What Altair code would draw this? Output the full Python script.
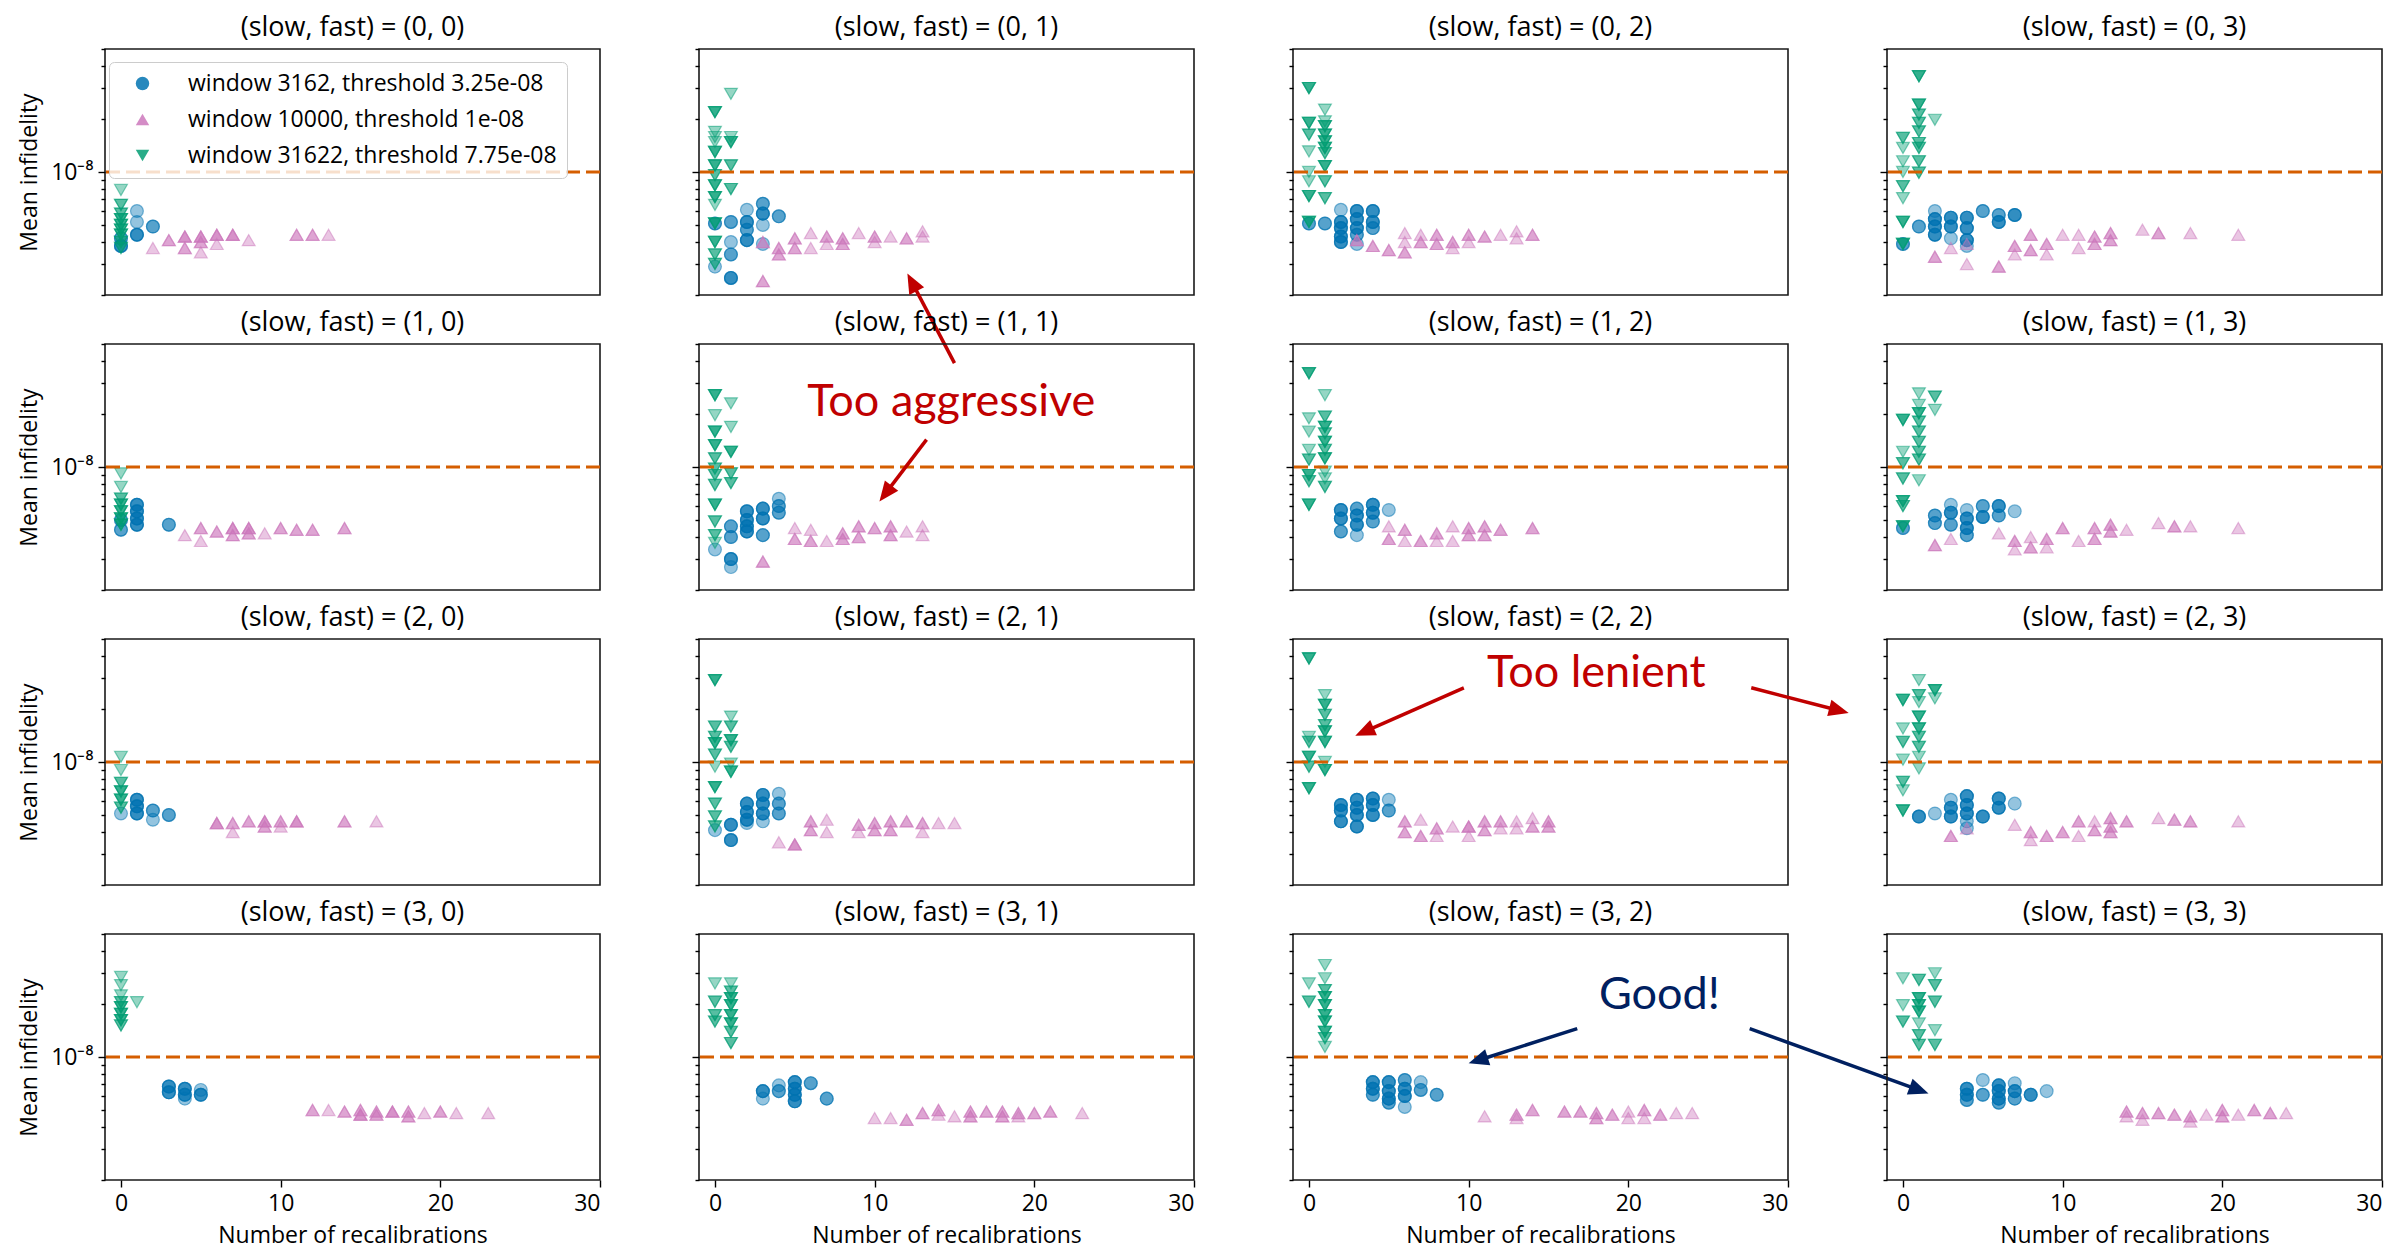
import math
import altair as alt
import pandas as pd

# ---------------- data ----------------
SERIES = ["window 3162, threshold 3.25e-08",
          "window 10000, threshold 1e-08",
          "window 31622, threshold 7.75e-08"]
COLORS = ["#0173b2", "#cc78bc", "#029e73"]
SHAPES = ["circle", "triangle-up", "triangle-down"]
THRESHOLD = [1e-8]
UNIT = 1e-8          # y values below are in units of 1e-8
X_TICKS = [0, 10, 20, 30]
Y_TICKS = [2e-9, 3e-9, 4e-9, 5e-9, 6e-9, 7e-9, 8e-9, 9e-9, 1e-8, 2e-8, 3e-8, 4e-8, 5e-8]
X_DOMAIN = [-1, 30]
Y_DOMAIN = [2e-9, 5e-8]

# (recalibrations, mean infidelity / 1e-8, number of overlapping runs)
W3162 = {
    (0, 0): [(0, .38, 3), (0, .42, 2), (1, .60, 1), (1, .52, 1), (1, .44, 3), (2, .49, 2)],
    (0, 1): [(0, .51, 2), (0, .29, 1), (1, .52, 2), (1, .40, 1), (1, .34, 2), (1, .25, 3), (2, .61, 1), (2, .52, 3),
             (2, .47, 2), (2, .41, 3), (3, .66, 2), (3, .58, 3), (3, .50, 1), (3, .39, 1), (4, .56, 2)],
    (0, 2): [(0, .51, 2), (1, .51, 2), (2, .61, 1), (2, .52, 3), (2, .48, 3), (2, .43, 3), (2, .40, 3), (3, .60, 3),
             (3, .54, 3), (3, .48, 3), (3, .44, 2), (3, .39, 1), (4, .60, 3), (4, .52, 3), (4, .48, 2)],
    (0, 3): [(0, .39, 2), (1, .49, 2), (2, .60, 1), (2, .54, 3), (2, .49, 3), (2, .44, 3), (3, .55, 3), (3, .49, 3),
             (3, .42, 1), (4, .55, 3), (4, .48, 3), (4, .41, 3), (4, .38, 1), (5, .60, 2), (6, .57, 2), (6, .52, 3),
             (7, .57, 3)],
    (1, 0): [(0, .50, 2), (0, .44, 2), (1, .61, 3), (1, .56, 3), (1, .51, 3), (1, .47, 3), (3, .47, 2)],
    (1, 1): [(0, .34, 1), (1, .46, 2), (1, .40, 2), (1, .30, 3), (1, .27, 1), (2, .56, 3), (2, .50, 3), (2, .46, 3),
             (2, .43, 3), (3, .58, 3), (3, .51, 3), (3, .41, 2), (4, .66, 1), (4, .60, 2), (4, .55, 2)],
    (1, 2): [(2, .57, 3), (2, .51, 3), (2, .43, 2), (3, .58, 2), (3, .53, 3), (3, .47, 3), (3, .41, 1), (4, .61, 3),
             (4, .55, 3), (4, .49, 2), (5, .57, 1)],
    (1, 3): [(0, .45, 2), (2, .53, 2), (2, .48, 2), (3, .61, 1), (3, .55, 3), (3, .47, 2), (4, .57, 1), (4, .51, 3),
             (4, .45, 3), (4, .41, 2), (5, .60, 2), (5, .52, 3), (6, .60, 3), (6, .53, 2), (7, .56, 1)],
    (2, 0): [(0, .51, 1), (1, .61, 3), (1, .56, 3), (1, .51, 3), (2, .53, 2), (2, .47, 1), (3, .50, 2)],
    (2, 1): [(0, .41, 1), (1, .44, 3), (1, .36, 3), (2, .58, 3), (2, .52, 3), (2, .47, 3), (2, .45, 1), (3, .65, 3),
             (3, .58, 3), (3, .51, 3), (3, .46, 1), (4, .66, 1), (4, .58, 2), (4, .51, 2)],
    (2, 2): [(2, .57, 3), (2, .53, 3), (2, .46, 3), (3, .61, 3), (3, .55, 3), (3, .50, 3), (3, .43, 3), (4, .62, 3),
             (4, .57, 3), (4, .50, 3), (5, .61, 1), (5, .53, 2)],
    (2, 3): [(1, .49, 3), (2, .51, 1), (3, .61, 1), (3, .55, 3), (3, .49, 3), (4, .64, 3), (4, .57, 3), (4, .51, 3),
             (4, .46, 1), (4, .42, 1), (5, .49, 3), (6, .62, 3), (6, .55, 3), (7, .58, 1)],
    (3, 0): [(3, .68, 3), (3, .63, 3), (4, .66, 3), (4, .61, 3), (4, .58, 1), (5, .65, 1), (5, .61, 3)],
    (3, 1): [(3, .64, 3), (3, .58, 1), (4, .69, 1), (4, .64, 2), (5, .72, 3), (5, .66, 3), (5, .61, 3), (5, .56, 3),
             (6, .71, 2), (7, .58, 2)],
    (3, 2): [(4, .72, 3), (4, .66, 3), (4, .61, 2), (5, .72, 3), (5, .64, 3), (5, .58, 3), (5, .55, 2), (6, .74, 2),
             (6, .66, 3), (6, .60, 3), (6, .52, 1), (7, .72, 1), (7, .65, 2), (8, .61, 2)],
    (3, 3): [(4, .66, 3), (4, .61, 3), (4, .57, 2), (5, .74, 1), (5, .61, 2), (6, .69, 3), (6, .64, 3), (6, .58, 3),
             (6, .55, 2), (7, .71, 1), (7, .64, 3), (7, .58, 2), (8, .61, 3), (9, .64, 1)],
}

W10000 = {
    (0, 0): [(2, .37, 1), (3, .41, 2), (4, .43, 3), (4, .37, 2), (5, .43, 3), (5, .40, 2), (5, .35, 1), (6, .44, 3),
             (6, .39, 1), (7, .44, 3), (8, .41, 1), (11, .44, 2), (12, .44, 2), (13, .44, 1)],
    (0, 1): [(3, .40, 2), (3, .24, 2), (4, .37, 2), (4, .34, 2), (5, .42, 2), (5, .37, 2), (6, .45, 1), (6, .37, 1),
             (7, .43, 2), (7, .39, 1), (8, .42, 2), (8, .39, 2), (9, .45, 1), (10, .43, 2), (10, .40, 1),
             (11, .43, 1), (12, .42, 2), (13, .46, 1), (13, .43, 1)],
    (0, 2): [(3, .41, 2), (4, .38, 2), (5, .36, 2), (6, .45, 1), (6, .40, 1), (6, .35, 2), (7, .44, 1), (7, .40, 2),
             (8, .44, 2), (8, .39, 2), (9, .40, 2), (9, .37, 1), (10, .44, 2), (10, .40, 1), (11, .43, 2),
             (12, .44, 1), (13, .46, 1), (13, .42, 1), (14, .44, 2)],
    (0, 3): [(2, .33, 2), (3, .37, 1), (4, .39, 1), (4, .30, 1), (6, .29, 2), (7, .38, 2), (7, .34, 1), (8, .44, 2),
             (8, .36, 2), (9, .39, 2), (9, .34, 1), (10, .44, 1), (11, .44, 1), (11, .37, 1), (12, .43, 2),
             (12, .39, 2), (13, .45, 2), (13, .41, 2), (15, .47, 1), (16, .45, 2), (18, .45, 1), (21, .44, 1)],
    (1, 0): [(4, .41, 1), (5, .45, 2), (5, .38, 1), (6, .43, 2), (7, .45, 3), (7, .41, 2), (8, .45, 3), (8, .42, 2),
             (9, .42, 1), (10, .45, 2), (11, .44, 2), (12, .44, 2), (14, .45, 2)],
    (1, 1): [(3, .29, 2), (5, .45, 1), (5, .39, 2), (6, .44, 1), (6, .38, 2), (7, .38, 1), (8, .42, 2), (8, .39, 2),
             (9, .46, 2), (9, .40, 2), (10, .45, 2), (11, .46, 2), (11, .41, 2), (12, .43, 1), (13, .46, 1),
             (13, .41, 1)],
    (1, 2): [(5, .46, 1), (5, .39, 2), (6, .44, 2), (6, .38, 1), (7, .38, 2), (8, .42, 2), (8, .38, 1), (9, .46, 1),
             (9, .38, 1), (10, .45, 2), (10, .41, 2), (11, .46, 2), (11, .41, 2), (12, .44, 2), (14, .45, 2)],
    (1, 3): [(2, .36, 2), (3, .39, 1), (6, .42, 1), (7, .38, 2), (7, .34, 1), (8, .40, 1), (8, .35, 2), (9, .39, 2),
             (9, .35, 1), (10, .45, 2), (11, .38, 1), (12, .45, 2), (12, .39, 2), (13, .47, 2), (13, .43, 2),
             (14, .44, 1), (16, .48, 1), (17, .46, 2), (18, .46, 1), (21, .45, 1)],
    (2, 0): [(6, .45, 3), (7, .45, 2), (7, .40, 1), (8, .46, 2), (9, .46, 3), (9, .43, 2), (10, .46, 2), (10, .43, 1),
             (11, .46, 3), (14, .46, 2), (16, .46, 1)],
    (2, 1): [(4, .35, 1), (5, .34, 3), (6, .46, 2), (6, .41, 2), (7, .47, 1), (7, .40, 1), (9, .44, 2), (9, .40, 1),
             (10, .45, 2), (10, .41, 2), (11, .46, 2), (11, .41, 2), (12, .46, 2), (13, .45, 2), (13, .40, 1),
             (14, .45, 1), (15, .45, 1)],
    (2, 2): [(6, .46, 2), (6, .40, 2), (7, .47, 1), (7, .38, 2), (8, .42, 2), (8, .38, 1), (9, .43, 1), (10, .43, 3),
             (10, .38, 1), (11, .46, 2), (11, .41, 2), (12, .46, 2), (12, .42, 1), (13, .46, 1), (13, .42, 1),
             (14, .48, 1), (14, .43, 2), (15, .46, 2), (15, .43, 2)],
    (2, 3): [(3, .38, 2), (4, .42, 1), (7, .44, 1), (8, .40, 2), (8, .36, 1), (9, .38, 2), (10, .40, 2), (11, .46, 2),
             (11, .38, 1), (12, .46, 1), (12, .41, 2), (13, .48, 2), (13, .43, 2), (13, .40, 2), (14, .46, 2),
             (16, .48, 1), (17, .47, 2), (18, .46, 2), (21, .46, 1)],
    (3, 0): [(12, .50, 2), (13, .50, 1), (14, .49, 2), (15, .50, 2), (15, .47, 3), (16, .49, 2), (16, .47, 2),
             (17, .49, 3), (18, .49, 2), (18, .46, 2), (19, .48, 1), (20, .49, 2), (21, .48, 1), (23, .48, 1)],
    (3, 1): [(10, .45, 1), (11, .45, 1), (12, .44, 2), (13, .48, 2), (14, .50, 2), (14, .47, 1), (15, .46, 1),
             (16, .49, 2), (16, .46, 2), (17, .49, 2), (18, .49, 2), (18, .46, 2), (19, .48, 2), (19, .46, 1),
             (20, .48, 2), (21, .49, 2), (23, .48, 1)],
    (3, 2): [(11, .46, 1), (13, .47, 2), (13, .45, 1), (14, .50, 2), (16, .49, 2), (17, .49, 2), (18, .48, 2),
             (18, .45, 2), (19, .47, 2), (20, .49, 1), (20, .45, 1), (21, .50, 2), (21, .45, 1), (22, .47, 2),
             (23, .48, 1), (24, .48, 1)],
    (3, 3): [(14, .49, 2), (14, .46, 1), (15, .48, 2), (15, .44, 1), (16, .48, 2), (17, .47, 2), (18, .46, 2),
             (18, .43, 1), (19, .47, 1), (20, .50, 2), (20, .46, 2), (21, .47, 1), (22, .50, 2), (23, .48, 2),
             (24, .48, 1)],
}

W31622 = {
    (0, 0): [(0, .79, 1), (0, .65, 2), (0, .58, 2), (0, .54, 3), (0, .50, 3), (0, .47, 3), (0, .44, 3), (0, .40, 2),
             (0, .37, 2)],
    (0, 1): [(0, 2.19, 3), (0, 1.69, 1), (0, 1.58, 1), (0, 1.48, 1), (0, 1.30, 3), (0, 1.09, 3), (0, .96, 2),
             (0, .84, 3), (0, .72, 3), (0, .65, 1), (0, .51, 3), (0, .40, 3), (0, .34, 2), (0, .30, 2),
             (1, 2.78, 1), (1, 1.58, 1), (1, 1.48, 3), (1, 1.09, 2), (1, .80, 2)],
    (0, 2): [(0, 3.0, 3), (0, 1.90, 3), (0, 1.63, 2), (0, 1.31, 1), (0, 1.0, 1), (0, .885, 1), (0, .73, 3),
             (0, .52, 3), (1, 2.26, 1), (1, 1.94, 1), (1, 1.82, 3), (1, 1.63, 3), (1, 1.49, 3), (1, 1.37, 3),
             (1, 1.28, 2), (1, 1.08, 3), (1, .885, 2), (1, .71, 2)],
    (0, 3): [(0, 1.56, 2), (0, 1.37, 1), (0, 1.15, 1), (0, 1.0, 1), (0, .83, 2), (0, .71, 1), (0, .52, 3),
             (0, .39, 3), (1, 3.5, 3), (1, 2.41, 3), (1, 2.12, 2), (1, 1.90, 2), (1, 1.70, 2), (1, 1.46, 2),
             (1, 1.37, 2), (1, 1.15, 2), (1, .99, 2), (2, 1.98, 1)],
    (1, 0): [(0, .92, 1), (0, .77, 1), (0, .66, 2), (0, .61, 3), (0, .56, 3), (0, .51, 3), (0, .47, 3)],
    (1, 1): [(0, 2.56, 3), (0, 1.97, 1), (0, 1.59, 3), (0, 1.33, 3), (0, 1.12, 2), (0, .98, 2), (0, .90, 2),
             (0, .79, 2), (0, .61, 3), (0, .49, 2), (0, .41, 2), (0, .37, 1), (1, 2.30, 1), (1, 1.69, 1),
             (1, 1.22, 3), (1, .92, 2), (1, .81, 2)],
    (1, 2): [(0, 3.41, 3), (0, 1.89, 1), (0, 1.59, 1), (0, 1.25, 1), (0, 1.10, 2), (0, .90, 3), (0, .83, 2),
             (0, .61, 3), (1, 2.56, 1), (1, 1.93, 2), (1, 1.69, 3), (1, 1.55, 2), (1, 1.39, 3), (1, 1.25, 2),
             (1, 1.12, 3), (1, .94, 1), (1, .86, 1), (1, .77, 2)],
    (1, 3): [(0, 1.85, 3), (0, 1.22, 1), (0, 1.05, 2), (0, .86, 2), (0, .64, 3), (0, .60, 2), (0, .46, 3),
             (1, 2.62, 1), (1, 2.25, 1), (1, 2.02, 3), (1, 1.81, 2), (1, 1.59, 2), (1, 1.39, 2), (1, 1.22, 2),
             (1, 1.10, 2), (1, .84, 1), (2, 2.51, 2), (2, 2.11, 1)],
    (2, 0): [(0, 1.07, 1), (0, .90, 1), (0, .76, 2), (0, .68, 3), (0, .61, 3), (0, .55, 2)],
    (2, 1): [(0, 2.92, 3), (0, 1.59, 2), (0, 1.39, 2), (0, 1.28, 3), (0, 1.10, 2), (0, .94, 1), (0, .72, 3),
             (0, .58, 2), (0, .49, 2), (0, .43, 2), (1, 1.81, 1), (1, 1.59, 2), (1, 1.33, 3), (1, 1.22, 2),
             (1, .98, 1), (1, .88, 3)],
    (2, 2): [(0, 3.88, 3), (0, 1.39, 1), (0, 1.30, 2), (0, 1.07, 3), (0, .94, 2), (0, .71, 3), (1, 2.40, 1),
             (1, 2.11, 3), (1, 1.85, 2), (1, 1.62, 2), (1, 1.49, 3), (1, 1.30, 3), (1, 1.0, 1), (1, .90, 3)],
    (2, 3): [(0, 2.25, 3), (0, 1.55, 1), (0, 1.30, 2), (0, 1.03, 1), (0, .77, 2), (0, .69, 1), (0, .53, 3),
             (1, 2.92, 1), (1, 2.40, 2), (1, 2.19, 1), (1, 1.81, 3), (1, 1.55, 3), (1, 1.39, 2), (1, 1.22, 2),
             (1, 1.07, 1), (1, .92, 1), (2, 2.56, 3), (2, 2.30, 1)],
    (3, 0): [(0, 2.85, 1), (0, 2.56, 1), (0, 2.24, 1), (0, 2.05, 2), (0, 1.92, 3), (0, 1.76, 3), (0, 1.62, 3),
             (0, 1.51, 2), (1, 2.05, 1)],
    (3, 1): [(0, 2.62, 1), (0, 2.06, 2), (0, 1.73, 2), (0, 1.59, 2), (1, 2.62, 1), (1, 2.35, 2), (1, 2.16, 3),
             (1, 1.97, 3), (1, 1.73, 3), (1, 1.55, 3), (1, 1.39, 2), (1, 1.20, 2)],
    (3, 2): [(0, 2.62, 1), (0, 2.06, 2), (1, 3.33, 1), (1, 2.80, 1), (1, 2.40, 2), (1, 2.19, 3), (1, 1.97, 3),
             (1, 1.73, 3), (1, 1.59, 3), (1, 1.39, 3), (1, 1.28, 2), (1, 1.14, 1)],
    (3, 3): [(0, 2.80, 1), (0, 1.97, 1), (0, 1.59, 2), (1, 2.74, 2), (1, 2.16, 3), (1, 1.97, 3), (1, 1.81, 3),
             (1, 1.55, 1), (1, 1.33, 2), (1, 1.17, 2), (2, 2.99, 1), (2, 2.56, 2), (2, 2.06, 2), (2, 1.42, 1),
             (2, 1.17, 2)],
}

# annotations (in the host panel's data coordinates)
RED, NAVY = "#c00000", "#002060"
NOTE_PANEL = [(1, 1), (2, 2), (3, 2)]
NOTE_TEXT = ["Too aggressive", "Too lenient", "Good!"]
NOTE_X = [14.8, 18.0, 21.95]
NOTE_Y = [1.94e-8, 2.67e-8, 1.88e-8]
NOTE_COLOR = [RED, RED, NAVY]
ARROW_PANEL = [(0, 1), (1, 1), (2, 2), (2, 2), (3, 2), (3, 2)]
ARROW_FROM = [(15.0, 8.2e-10), (13.25, 1.43e-8), (9.7, 2.64e-8), (27.7, 2.64e-8), (16.8, 1.45e-8), (27.6, 1.45e-8)]
ARROW_TO = [(12.05, 2.65e-9), (10.3, 6.37e-9), (2.9, 1.41e-8), (33.8, 1.90e-8), (10.0, 9.2e-9), (38.8, 6.2e-9)]
ARROW_COLOR = [RED, RED, RED, RED, NAVY, NAVY]

# ---------------- layout / style ----------------
PANEL_W, PANEL_H = 495, 246
PX_PER_X = PANEL_W / (X_DOMAIN[1] - X_DOMAIN[0])
PX_PER_DEC = PANEL_H / (math.log10(Y_DOMAIN[1]) - math.log10(Y_DOMAIN[0]))
FONT = "Open Sans"
FS = 23
HEAD_PATH = "M0,0L-1,-0.42L-1,0.42Z"
HEAD_SIZE = 1600  # head length = sqrt(size)/2 px

IS_MAJOR = "abs(log(datum.value)/LN10 + 8) < 0.01"

cscale = alt.Scale(domain=SERIES, range=COLORS)
sscale = alt.Scale(domain=SERIES, range=SHAPES)
xscale = alt.Scale(domain=X_DOMAIN, nice=False, zero=False)
yscale = alt.Scale(type="log", domain=Y_DOMAIN, nice=False)


def panel(s, f):
    rows = []
    for name, table in zip(SERIES, [W3162, W10000, W31622]):
        for x, y, n in table[(s, f)]:
            for _ in range(n):
                rows.append({"x": x, "y": y * UNIT, "series": name})
    df = pd.DataFrame(rows)

    if s == 3:
        xaxis = alt.Axis(values=X_TICKS, title="Number of recalibrations", tickSize=7, labelPadding=5,
                         format="d", grid=False, domain=False, titlePadding=9)
    else:
        xaxis = None
    if f == 0:
        yaxis = alt.Axis(values=Y_TICKS, title="Mean infidelity", grid=False, domain=False,
                         labelExpr=IS_MAJOR + " ? '10⁻⁸' : ''",
                         tickSize={"condition": {"test": IS_MAJOR, "value": 7}, "value": 4},
                         labelPadding=5, titlePadding=9)
    else:
        yaxis = alt.Axis(values=Y_TICKS, title=None, labels=False, grid=False, domain=False,
                         tickSize={"condition": {"test": IS_MAJOR, "value": 7}, "value": 4})

    X = alt.X("x:Q", scale=xscale, axis=xaxis)
    Y = alt.Y("y:Q", scale=yscale, axis=yaxis)

    if (s, f) == (0, 0):
        legend = alt.Legend(title=None, orient="none", legendX=4, legendY=13,
                            fillColor="rgba(255,255,255,0.8)", strokeColor="#cccccc", cornerRadius=5,
                            padding=10, labelFont=FONT, labelFontSize=FS, labelColor="black",
                            symbolSize=180, symbolOpacity=0.85, symbolStrokeWidth=0,
                            symbolOffset=12, labelOffset=34, rowPadding=12, labelLimit=600)
    else:
        legend = None

    pts = alt.Chart(df).mark_point(filled=True, size=165, fillOpacity=0.42, strokeOpacity=0.5,
                                   strokeWidth=1.2).encode(
        x=X, y=Y,
        color=alt.Color("series:N", scale=cscale, legend=legend),
        shape=alt.Shape("series:N", scale=sscale, legend=legend),
        stroke=alt.Stroke("series:N", scale=cscale, legend=None),
    )

    hline = alt.Chart(pd.DataFrame({"y": THRESHOLD})).mark_rule(
        color="#d55e00", strokeWidth=3, strokeDash=[14, 6]).encode(y=Y)

    layers = [pts, hline]

    if (s, f) in NOTE_PANEL:
        i = NOTE_PANEL.index((s, f))
        tdf = pd.DataFrame({"x": [NOTE_X[i]], "y": [NOTE_Y[i]], "t": [NOTE_TEXT[i]]})
        layers.append(alt.Chart(tdf).mark_text(font="Lato", fontSize=45, color=NOTE_COLOR[i], align="center",
                                               baseline="alphabetic", clip=False).encode(x=X, y=Y, text="t:N"))

    idx = [k for k, p in enumerate(ARROW_PANEL) if p == (s, f)]
    for k in idx:
        (x1, y1), (x2, y2), col = ARROW_FROM[k], ARROW_TO[k], ARROW_COLOR[k]
        dxp = (x2 - x1) * PX_PER_X
        dyp = -(math.log10(y2) - math.log10(y1)) * PX_PER_DEC
        L = math.hypot(dxp, dyp)
        ux, uy = dxp / L, dyp / L
        back = 12
        xe = x2 - back * ux / PX_PER_X
        ye = 10 ** (math.log10(y2) + back * uy / PX_PER_DEC)
        ang = math.degrees(math.atan2(dyp, dxp)) % 360
        adf = pd.DataFrame([{"x": x1, "y": y1, "x2": xe, "y2": ye, "hx": x2, "hy": y2, "ang": ang}])
        layers.append(alt.Chart(adf).mark_rule(color=col, strokeWidth=3.5, clip=False).encode(
            x=X, y=Y, x2="x2:Q", y2="y2:Q"))
        layers.append(alt.Chart(adf).mark_point(shape=HEAD_PATH, filled=True, size=HEAD_SIZE, color=col,
                                                opacity=1, clip=False).encode(
            x=alt.X("hx:Q", scale=xscale, axis=xaxis),
            y=alt.Y("hy:Q", scale=yscale, axis=yaxis),
            angle=alt.Angle("ang:Q", scale=None)))

    return alt.layer(*layers).properties(
        width=PANEL_W, height=PANEL_H,
        title=alt.TitleParams(f"(slow, fast) = ({s}, {f})", font=FONT, fontSize=27, fontWeight="normal",
                              color="black", offset=6, frame="group", anchor="middle"),
    )


panels = [panel(s, f) for s in range(4) for f in range(4)]

chart = alt.concat(*panels, columns=4, spacing={"row": 49, "column": 99}, bounds="flush").resolve_scale(
    color="independent", shape="independent", stroke="independent"
).resolve_legend(
    color="independent", shape="independent", stroke="independent"
).properties(
    padding={"left": 9, "top": 5, "right": 5, "bottom": 5}, background="white"
).configure_view(
    stroke="#1a1a1a", strokeWidth=1.6
).configure_axis(
    labelFont=FONT, titleFont=FONT, labelFontSize=FS, titleFontSize=FS, titleFontWeight="normal",
    labelColor="black", titleColor="black", tickColor="black", tickWidth=1.4
)

chart.save("out.html", embed_options={"renderer": "svg", "actions": False})
